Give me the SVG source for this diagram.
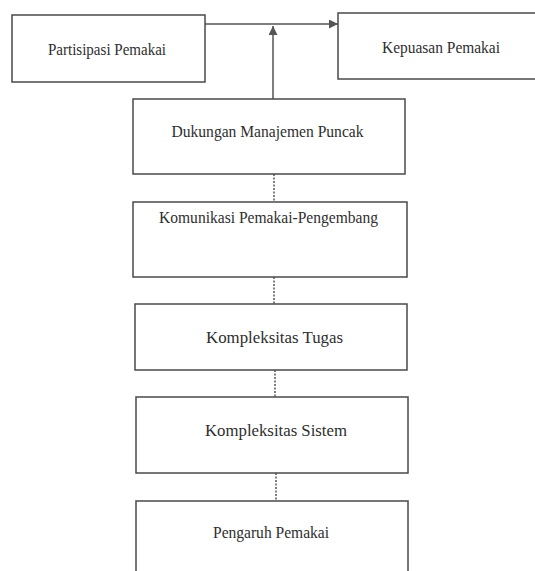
<svg xmlns="http://www.w3.org/2000/svg" width="535" height="571" viewBox="0 0 535 571">
<defs>
<style>
.box{fill:#fff;stroke:#4a4a4a;stroke-width:1.5}
.lbl{font-family:"Liberation Serif","Times New Roman",serif;font-size:16px;fill:#2e2e2e;text-anchor:middle}
.line{stroke:#555;stroke-width:1.5;fill:none}
.dash{stroke:#555;stroke-width:1.5;stroke-dasharray:2 1.5;fill:none}
</style>
<marker id="arr" viewBox="0 0 10 10" refX="10" refY="5" markerWidth="10" markerHeight="9" markerUnits="userSpaceOnUse" orient="auto">
<path d="M0,0 L10,5 L0,10 z" fill="#555"/>
</marker>
</defs>
<rect width="535" height="571" fill="#fff"/>
<g id="connectors">
<line class="line" x1="205" y1="24" x2="338" y2="24" marker-end="url(#arr)"/>
<line class="line" x1="273" y1="99" x2="273" y2="26" marker-end="url(#arr)"/>
<line class="dash" x1="274" y1="174" x2="274" y2="202"/>
<line class="dash" x1="274" y1="277" x2="274" y2="304"/>
<line class="dash" x1="275" y1="370" x2="275" y2="397"/>
<line class="dash" x1="276" y1="473" x2="276" y2="501"/>
</g>
<g id="partisipasi">
<rect class="box" x="12" y="15" width="193" height="67"/>
<text class="lbl" x="107" y="55" textLength="118" lengthAdjust="spacingAndGlyphs">Partisipasi Pemakai</text>
</g>
<g id="kepuasan">
<rect class="box" x="338" y="13" width="210" height="66"/>
<text class="lbl" x="441" y="53" textLength="118" lengthAdjust="spacingAndGlyphs">Kepuasan Pemakai</text>
</g>
<g id="dukungan">
<rect class="box" x="133" y="99" width="272" height="75"/>
<text class="lbl" x="267.5" y="137" textLength="192" lengthAdjust="spacingAndGlyphs">Dukungan Manajemen Puncak</text>
</g>
<g id="komunikasi">
<rect class="box" x="133" y="202" width="274" height="75"/>
<text class="lbl" x="268.5" y="223" textLength="219" lengthAdjust="spacingAndGlyphs">Komunikasi Pemakai-Pengembang</text>
</g>
<g id="tugas">
<rect class="box" x="135" y="304" width="272" height="66"/>
<text class="lbl" x="274.5" y="343" textLength="137" lengthAdjust="spacingAndGlyphs">Kompleksitas Tugas</text>
</g>
<g id="sistem">
<rect class="box" x="136" y="397" width="272" height="76"/>
<text class="lbl" x="276" y="436" textLength="142" lengthAdjust="spacingAndGlyphs">Kompleksitas Sistem</text>
</g>
<g id="pengaruh">
<rect class="box" x="136" y="501" width="272" height="80"/>
<text class="lbl" x="271" y="538" textLength="116" lengthAdjust="spacingAndGlyphs">Pengaruh Pemakai</text>
</g>
</svg>
